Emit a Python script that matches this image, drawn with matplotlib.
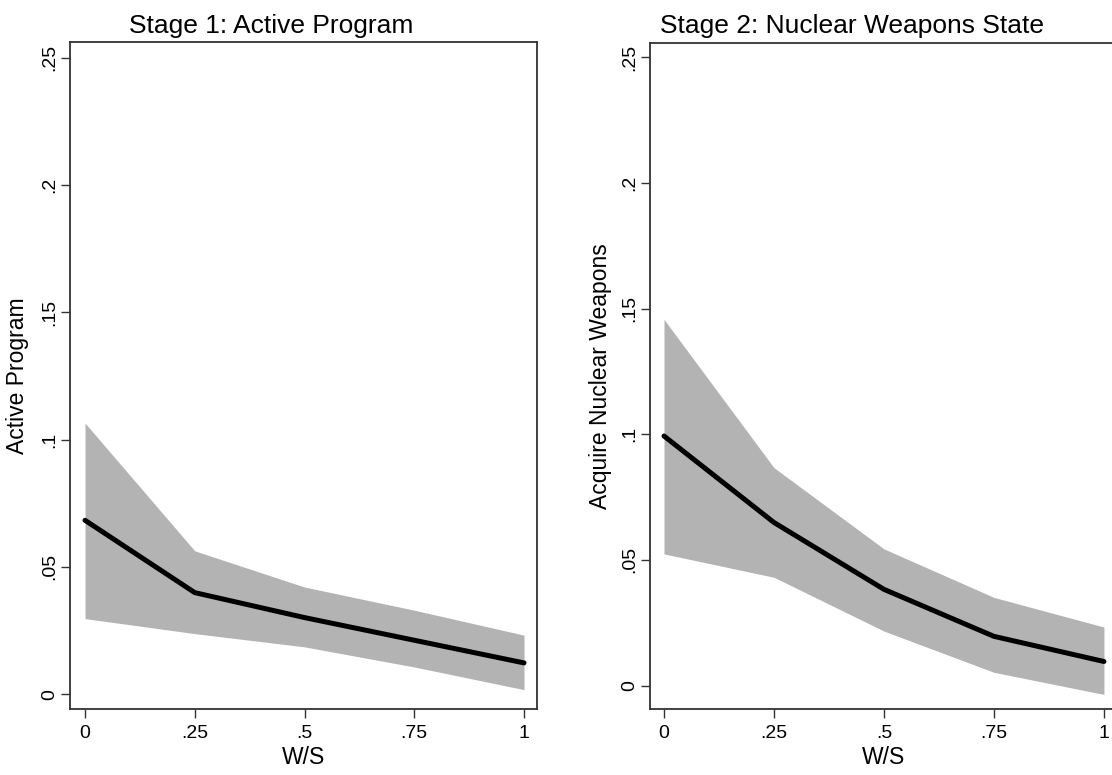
import matplotlib
matplotlib.use("Agg")
import matplotlib.pyplot as plt

plt.rcParams['font.family'] = ['Liberation Sans', 'DejaVu Sans']

# Data
ws = [0, 0.25, 0.5, 0.75, 1.0]
xtick_vals = [0, 0.25, 0.5, 0.75, 1.0]
xtick_labels = ["0", ".25", ".5", ".75", "1"]
ytick_vals = [0, 0.05, 0.1, 0.15, 0.2, 0.25]
ytick_labels = ["0", ".05", ".1", ".15", ".2", ".25"]

stage1_est = [0.0683, 0.0399, 0.0301, 0.0212, 0.0123]
stage1_lo = [0.0297, 0.0238, 0.0186, 0.0107, 0.0018]
stage1_hi = [0.1065, 0.0563, 0.0421, 0.0330, 0.0232]

stage2_est = [0.0993, 0.0649, 0.0383, 0.0196, 0.0096]
stage2_lo = [0.0524, 0.0431, 0.0217, 0.0053, -0.0035]
stage2_hi = [0.1457, 0.0867, 0.0544, 0.0351, 0.0233]

W, H = 1112, 775
fig = plt.figure(figsize=(W / 100, H / 100), dpi=100)

def px_axes(x0, y0, x1, y1):
    return fig.add_axes([x0 / W, 1 - y1 / H, (x1 - x0) / W, (y1 - y0) / H])

ax1 = px_axes(70, 42.3, 537, 709)
ax2 = px_axes(650, 42.6, 1118, 709)

fill_col = "#b3b3b3"
spine_col = "#333333"

def style(ax, est, lo, hi, ylabel, xlim, ylim, ylab_x):
    ax.fill_between(ws, lo, hi, color=fill_col, linewidth=0, zorder=1)
    ax.plot(ws, est, color="black", linewidth=3.6, solid_capstyle="round",
            solid_joinstyle="round", zorder=2)
    ax.set_xlim(*xlim)
    ax.set_ylim(*ylim)
    ax.set_xticks(xtick_vals)
    ax.set_xticklabels(xtick_labels)
    ax.set_yticks(ytick_vals)
    ax.set_yticklabels(ytick_labels, rotation=90, va="center")
    ax.tick_params(axis="both", direction="out", length=6.5, width=1.0,
                   color=spine_col, labelsize=14)
    ax.tick_params(axis="x", pad=5)
    ax.tick_params(axis="y", pad=2)
    for s in ax.spines.values():
        s.set_color(spine_col)
        s.set_linewidth(1.3)
    ax.set_xlabel("W/S", fontsize=16.5, labelpad=3)
    ax.set_ylabel(ylabel, fontsize=16.5)
    ax.yaxis.set_label_coords(ylab_x, 0.5)

style(ax1, stage1_est, stage1_lo, stage1_hi, "Active Program",
      (-0.0342, 1.0296), (-0.0058, 0.2560), -0.087)
style(ax2, stage2_est, stage2_lo, stage2_hi, "Acquire Nuclear Weapons",
      (-0.0318, 1.032), (-0.0093, 0.2558), -0.081)

fig.text(271 / W, 1 - 32.5 / H, "Stage 1: Active Program", fontsize=19,
         ha="center", va="baseline")
fig.text(851.5 / W, 1 - 32.5 / H, "Stage 2: Nuclear Weapons State", fontsize=19,
         ha="center", va="baseline")

fig.savefig("out.png", dpi=100, facecolor="white")
